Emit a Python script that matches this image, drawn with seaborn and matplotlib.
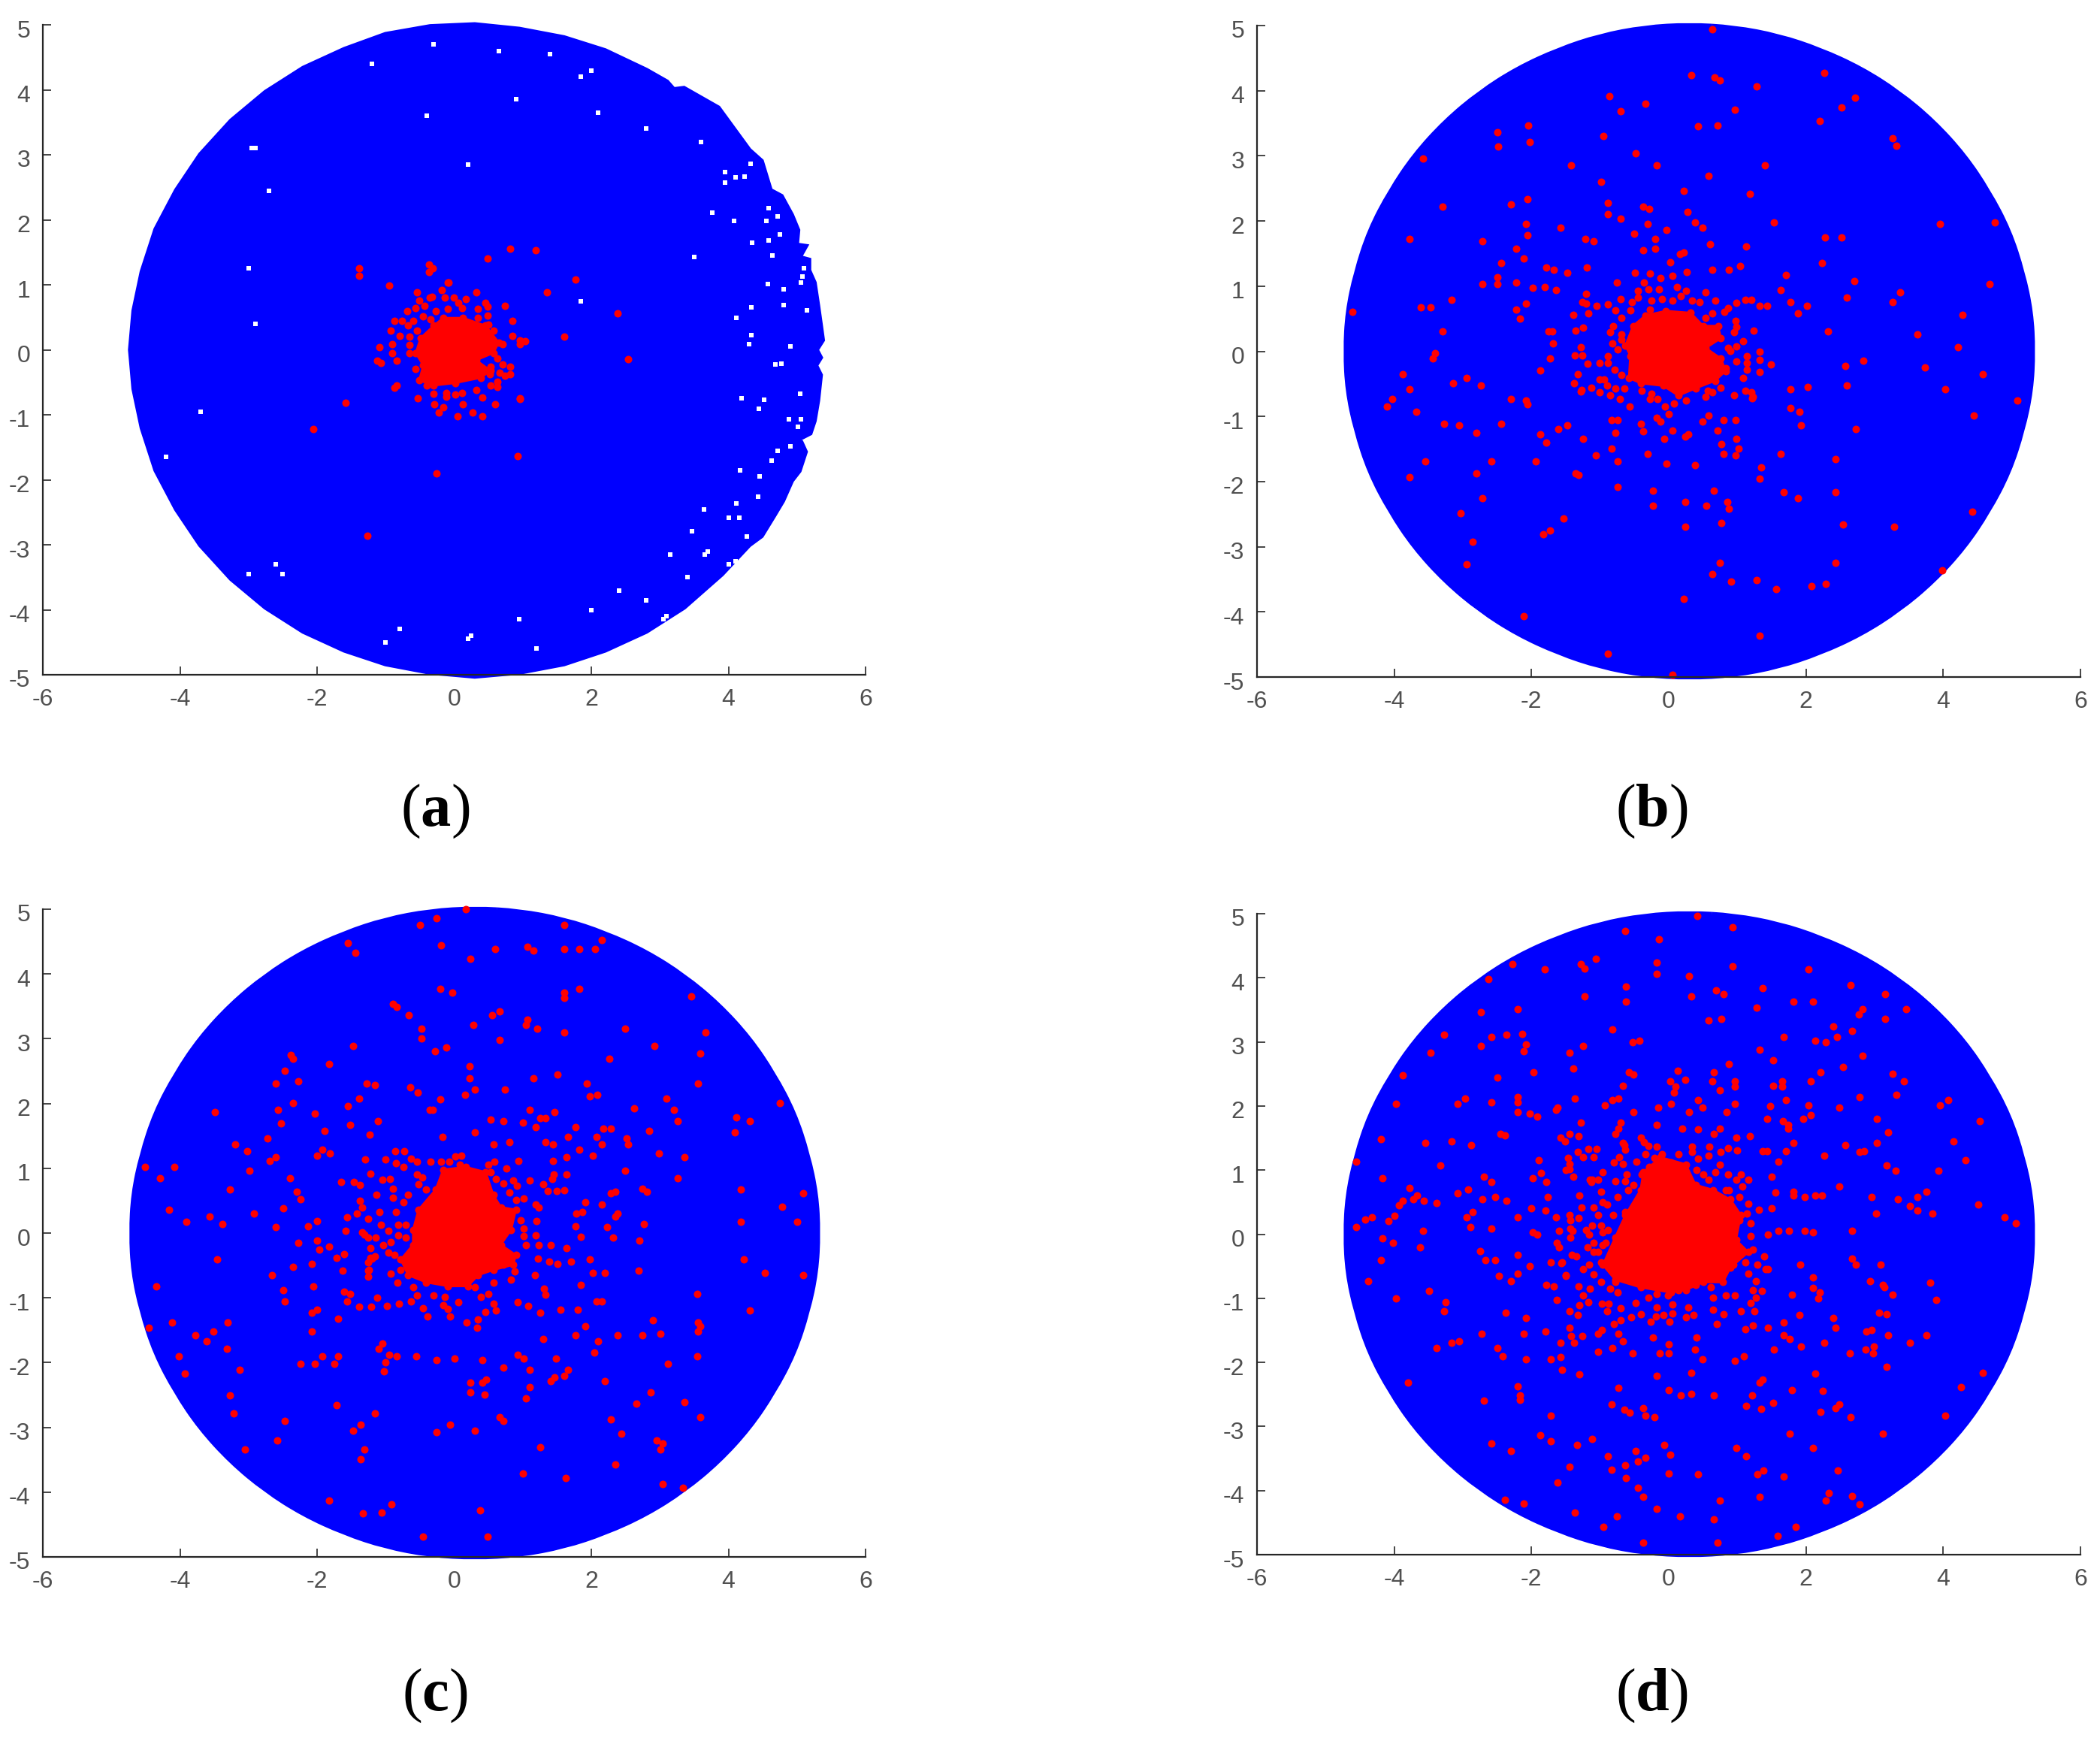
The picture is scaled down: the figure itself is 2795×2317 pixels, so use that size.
import matplotlib
matplotlib.use("Agg")
import matplotlib.pyplot as plt
from matplotlib.path import Path
from matplotlib.patches import PathPatch
from matplotlib.transforms import ScaledTranslation
import seaborn as sns
import pandas as pd

x_ticks = [-6, -4, -2, 0, 2, 4, 6]
y_ticks = [-5, -4, -3, -2, -1, 0, 1, 2, 3, 4, 5]
panel_labels = ["a", "b", "c", "d"]

disc_edge = [(0.3,5.0),(0.95,4.96),(1.6,4.83),(2.2,4.62),(2.8,4.33),(3.35,3.96),(3.85,3.52),(4.3,3.0),(4.65,2.45),(4.95,1.85),
             (5.15,1.2),(5.27,.6),(5.3,0),(5.27,-.6),(5.15,-1.2),(4.95,-1.85),(4.65,-2.45),(4.3,-3),(3.85,-3.52),(3.35,-3.96),
             (2.8,-4.33),(2.2,-4.62),(1.6,-4.83),(.95,-4.96),(.3,-5),(-.35,-4.96),(-1,-4.83),(-1.6,-4.62),(-2.2,-4.33),(-2.75,-3.96),
             (-3.25,-3.52),(-3.7,-3),(-4.05,-2.45),(-4.35,-1.85),(-4.55,-1.2),(-4.67,-.6),(-4.7,0),(-4.67,.6),(-4.55,1.2),(-4.35,1.85),
             (-4.05,2.45),(-3.7,3),(-3.25,3.52),(-2.75,3.96),(-2.2,4.33),(-1.6,4.62),(-1,4.83),(-.35,4.96)]

# panel a has a rougher edge, mostly on the right
disc_edge_a = [(0.3,5.0),(0.95,4.93),(1.6,4.8),(2.2,4.6),(2.8,4.3),(3.1,4.12),(3.2,4.0),(3.35,4.02),(3.85,3.72),(4.3,3.07),(4.48,2.9),(4.61,2.45),
               (4.77,2.36),(4.92,2.07),(5.01,1.84),(4.99,1.61),(5.12,1.59),(5.03,1.42),(5.17,1.38),(5.17,1.22),(5.25,1.03),(5.3,.68),(5.34,.38),(5.37,.15),
               (5.28,0),(5.34,-.12),(5.27,-.24),(5.34,-.39),(5.3,-.78),(5.25,-1.09),(5.19,-1.28),(4.95,-1.41),(5.06,-1.43),(5.12,-1.57),(5.03,-1.86),
               (4.92,-2.01),(4.79,-2.32),(4.66,-2.55),(4.48,-2.86),(4.3,-3),(3.9,-3.45),(3.35,-3.96),(2.8,-4.33),(2.2,-4.62),(1.6,-4.83),(.95,-4.96),
               (.3,-5.02),(-.35,-4.96),(-1,-4.83),(-1.6,-4.62),(-2.2,-4.33),(-2.75,-3.96),(-3.25,-3.52),(-3.7,-3),(-4.05,-2.45),(-4.35,-1.85),(-4.55,-1.2),
               (-4.67,-.6),(-4.72,0),(-4.67,.6),(-4.55,1.2),(-4.35,1.85),(-4.05,2.45),(-3.7,3),(-3.25,3.52),(-2.75,3.96),(-2.2,4.33),(-1.6,4.62),(-1,4.85),(-.35,4.97)]

# small holes in the blue cloud of panel a
holes_a = [(3.95,2.57),(3.95,2.73),(4.24,2.67),(4.1,2.65),(4.32,2.86),(4.59,2.18),(4.72,2.05),(4.08,1.98),(4.55,1.98),(4.75,1.77),(3.5,1.43),(4.64,1.45),
           (5.08,1.13),(5.06,1.03),(5.1,1.26),(4.57,1.01),(4.81,.93),(4.33,.65),(4.11,.49),(4.8,.69),(5.14,.61),(4.68,-.22),(4.77,-.21),(4.9,.05),(4.3,.09),
           (4.19,-.74),(4.52,-.77),(5.05,-.68),(5.06,-1.07),(5.01,-1.18),(4.44,-.91),(4.9,-1.49),(4.63,-1.7),(4.45,-1.95),(4.17,-1.85),(4.43,-2.26),(4.11,-2.36),
           (3.64,-2.46),(4.01,-2.58),(4.16,-2.58),(3.47,-2.79),(4.27,-2.87),(3.76,2.11),(4.59,1.68),(4.35,1.65),(4.33,.22),(4.88,-1.07),(4.72,-1.55),
           (3.7,-3.1),(3.65,-3.15),(4,-3.3),(4.1,-3.25),(3.1,-4.1),(3.05,-4.15),(.2,-4.45),(.25,-4.4),(-1,-4.5),(1.85,.75),(1.85,4.2),(2,4.3),(1.4,4.55),(.65,4.6),
           (-.3,4.7),(-1.2,4.4),(-2.9,3.1),(-2.95,3.1),(-2.7,2.45),(-4,2.75),(-3,1.25),(-2.9,.4),(-4.2,-1.65),(-3.7,-.95),(-2.6,-3.3),(-2.5,-3.45),(-3,-3.45),
           (3.15,-3.15),(2.4,-3.7),(2,-4),(1.2,-4.6),(-.8,-4.3),(3.4,-3.5),(2.8,-3.85),(.95,-4.15),(.2,2.85),(-.4,3.6),(.9,3.85),(2.1,3.65),(2.8,3.4),(3.6,3.2)]

# solid red middle of each cloud
core_a = [(-.56,-.05),(-.49,.18),(-.3,.37),(-.16,.49),(.13,.49),(.46,.37),(.65,.11),(.57,-.05),(.32,-.16),(.53,-.32),(.39,-.43),(.02,-.51),(-.3,-.55),(-.51,-.47),(-.45,-.24)]
core_b = [(-.56,-.07),(-.63,.09),(-.52,.39),(-.34,.55),(-.04,.62),(.32,.59),(.5,.39),(.72,.39),(.76,.2),(.54,.05),(.76,-.11),(.83,-.3),(.68,-.45),(.39,-.57),(.14,-.68),(-.08,-.53),(-.41,-.49),(-.58,-.41)]
core_c = [(-.6,.05),(-.52,.36),(-.27,.67),(-.16,.98),(.17,1.02),(.46,.94),(.57,.59),(.68,.4),(.9,.36),(.83,.05),(.68,-.18),(.9,-.34),(.86,-.49),(.57,-.57),(.35,-.65),(.2,-.82),(-.09,-.82),(-.41,-.76),(-.67,-.65),(-.78,-.41),(-.6,-.18)]
core_d = [(-.96,-.48),(-.78,-.05),(-.63,.3),(-.41,.69),(-.37,.97),(-.12,1.2),(.25,1.09),(.39,.77),(.65,.69),(.9,.54),(1.05,.3),(.98,-.09),(1.16,-.28),(.9,-.52),(.79,-.75),(.5,-.75),(.25,-.87),(.03,-.91),(-.41,-.83),(-.78,-.71)]

red_a = [(-1.39,1.25),(-1.39,1.14),(-.37,1.31),(-.31,1.26),(-.37,1.2),(-.95,.99),(-.08,1.03),(.49,1.41),(.82,1.55),(1.19,1.53),(1.77,1.08),
         (1.35,.88),(2.38,.56),(1.61,.2),(2.54,-.14),(.96,-.76),(.93,-1.64),(-.26,-1.9),(-1.27,-2.86),(-2.05,-1.22),(-1.58,-.81)]
near_a = [(-.54,.88),(-.18,.92),(-.09,1.03),(-.36,.8),(-.51,.76),(-.43,.68),(-.32,.82),(-.14,.8),(-.01,.8),(.17,.78),(.32,.88),(.46,.72),(.49,.66),(.74,.68),(.34,.63),(.06,.72),
          (.12,.64),(-.09,.63),(-.27,.59),(-.56,.64),(-.69,.59),(-.76,.45),(-.87,.44),(-.67,.38),(-.6,.44),(-.54,.3),(-.93,.3),(-.8,.21),(-.65,.2),(-.34,.47),(-.45,.51),(.85,.44),
          (.85,.21),(.96,.15),(1.04,.13),(.96,.09),(.71,.09),(.57,.3),(.5,.39),(.49,.53),(.35,.49),(-.9,.09),(-1.09,.04),(-.9,-.05),(-1.12,-.17),(-1.07,-.2),(-.84,-.17),(-.65,.07),
          (-.65,-.05),(-.56,-.29),(-.4,-.55),(-.3,-.68),(-.11,-.66),(-.11,-.72),(-.53,-.75),(-.29,-.84),(-.16,-.89),(-.23,-.96),(.05,-1.02),(.13,-.84),(.27,-.96),(.41,-1.02),(.6,-.84),
          (.41,-.73),(.96,-.75),(.63,-.13),(.71,-.23),(.82,-.26),(.66,-.35),(.82,-.37),(.74,-.4),(.52,-.37),(.53,-.26),(.63,-.49),(.63,-.57),(.53,-.55),(.32,-.62),(.12,-.66),(.02,-.69),
          (-.87,-.58),(-.84,-.55)]

red_b = [(.63,4.94),(.33,4.24),(.67,4.2),(.74,4.16),(1.28,4.06),(2.27,4.27),(2.52,3.74),(2.71,3.89),(-.87,3.92),(-.34,3.8),(-.7,3.68),(.96,3.71),
         (.43,3.45),(.71,3.47),(2.2,3.54),(-2.05,3.47),(-2.5,3.36),(-.95,3.31),(-2.48,3.14),(-2.03,3.21),(3.26,3.27),(3.32,3.16),(-.48,3.04),
         (-3.58,2.96),(-1.42,2.86),(-.18,2.86),(1.4,2.86),(.58,2.69),(-.98,2.6),(.22,2.46),(1.18,2.42),(-2.06,2.34),(-2.3,2.25),(-3.3,2.22),
         (-.89,2.28),(-.37,2.22),(-.28,2.19),(-.89,2.1),(-.7,2.04),(.27,2.14),(.38,1.98),(.49,1.9),(1.53,1.98),(3.95,1.96),(4.75,1.98),
         (-2.08,1.96),(-1.58,1.9),(-2.06,1.78),(-.31,1.96),(-.5,1.81),(-.03,1.86),(-3.78,1.72),(-2.72,1.69),(-1.22,1.72),(-1.09,1.69),(-.2,1.72),
         (-.2,1.58),(-.37,1.55),(.6,1.64),(1.13,1.61),(2.28,1.75),(2.52,1.75),(-2.22,1.58),(-2.11,1.43),(.16,1.49),(.22,1.52),(.02,1.37),
         (-2.44,1.35),(2.23,1.35),(1.04,1.31),(-1.78,1.29),(-1.67,1.25),(-1.48,1.2),(-1.19,1.29),(.63,1.25),(.88,1.25),(1.71,1.17),(-2.5,1.14),
         (-2.5,1.03),(-2.72,1.03),(-2.22,1.05),(-1.98,.97),(-1.81,.99),(-1.64,.94),(2.7,1.08),(4.67,1.03),(1.63,.94),(3.37,.91),(-1.2,.88),
         (-3.16,.79),(-2.08,.73),(2.59,.82),(1.77,.75),(3.26,.75),(2.02,.7),(-3.61,.67),(-3.47,.67),(-2.22,.64),(-4.61,.61),(-2.17,.5),
         (1.88,.58),(4.28,.56),(-3.3,.31),(2.32,.31),(-1.75,.3),(-1.7,.3),(3.62,.26),(-1.69,.12),(4.22,.06),(-3.41,-.03),(-3.44,-.11),
         (-1.73,-.11),(2.84,-.14),(2.57,-.23),(3.73,-.25),(-3.88,-.35),(-1.87,-.29),(4.58,-.35),(-2.94,-.41),(-3.14,-.49),(-2.74,-.53),
         (2.59,-.53),(2.03,-.55),(-3.78,-.58),(1.77,-.58),(4.03,-.58),(-4.03,-.73),(-4.11,-.85),(-2.3,-.73),(-2.08,-.75),(-2.06,-.81),
         (5.08,-.76),(-3.68,-.93),(4.45,-.99),(1.77,-.87),(1.9,-.93),(-3.27,-1.11),(-3.05,-1.14),(-2.44,-1.11),(1.93,-1.14),(2.73,-1.19),
         (-1.61,-1.19),(-1.48,-1.14),(-2.8,-1.25),(-1.87,-1.28),(-1.78,-1.4),(-1.25,-1.34),(-1.06,-1.6),(-.83,-1.49),(-.31,-1.58),(-3.55,-1.69),
         (-2.58,-1.69),(-1.94,-1.69),(-.75,-1.69),(-.03,-1.72),(.38,-1.75),(.8,-1.58),(.97,-1.6),(1.02,-1.49),(.99,-1.34),(.77,-1.43),
         (1.63,-1.58),(2.43,-1.66),(1.35,-1.78),(1.33,-1.96),(-3.78,-1.93),(-2.8,-1.87),(-1.36,-1.87),(-1.31,-1.9),(-.75,-2.08),(-.23,-2.14),
         (.66,-2.14),(1.68,-2.16),(2.43,-2.16),(-2.72,-2.25),(1.88,-2.25),(.85,-2.31),(.24,-2.31),(.55,-2.37),(-.23,-2.37),(.88,-2.42),
         (4.42,-2.46),(-3.03,-2.48),(-1.53,-2.57),(.77,-2.63),(2.54,-2.66),(.24,-2.69),(3.28,-2.69),(-1.73,-2.75),(-1.83,-2.81),(-2.86,-2.92),
         (-2.94,-3.27),(.74,-3.25),(2.43,-3.25),(3.98,-3.36),(.63,-3.42),(.91,-3.53),(1.28,-3.51),(2.08,-3.6),(2.29,-3.57),(1.57,-3.65),
         (.22,-3.8),(-2.11,-4.06),(1.33,-4.36),(-.89,-4.64),(.05,-4.97)]
near_b = [(-.81,.39),(-.69,.51),(-.78,.63),(-.56,.63),(-.54,.76),(-.45,.82),(-.7,.8),(-.89,.72),(-.27,.64),(-.25,.78),(-.1,.8),(.05,.78),(.17,.85),(.25,.93),(.34,.78),(.45,.76),(.63,.58),(.54,.51),
          (.68,.78),(.81,.6),(.87,.66),(.99,.74),(1.12,.79),(1.2,.79),(.97,.47),(.99,.37),(.95,.29),(1.08,.16),(.99,.07),(.87,.05),(.9,.01),(.83,-.26),(1.14,-.28),(1.14,-.18),(.99,-.15),(1.14,-.07),
          (1.08,-.41),(1.12,-.61),(1.23,-.7),(.95,-.67),(.76,-.56),(.63,-.63),(.57,-.61),(.54,-.7),(.25,-.76),(.08,-.8),(-.05,-.85),(0,-.96),(-.16,-.73),(-.27,-.73),(-.25,-.65),(-.39,-.61),(-.65,-.57),
          (-.78,-.57),(-.9,-.53),(-1.01,-.43),(-.94,-.43),(-1.01,-.63),(-1.13,-.56),(-1.27,-.59),(-.85,-.68),(-.71,-.73),(-.79,-.28),(-.69,-.36),(-1.01,-.18),(-.89,-.18),(-.89,-.07),(-.74,.03),(-.82,.12),
          (-.69,.18),(-.69,.26),(-.85,.29),(-.12,1.12),(.06,1.16),(.26,1.22),(-.27,1.19),(-.49,1.2),(-.76,1.05),(-.36,1.05),(-.3,.95),(-.45,.93),(-.14,.95),(.12,.99),(.54,.91),
          (-1.05,.7),(-1.2,.73),(-1.26,.75),(-1.39,.56),(-1.17,.58),(-1.36,.32),(-1.25,.36),(1.43,.7),(1.33,.7),(1.24,.32),(1.33,0),(1.33,-.13),(1.49,-.2),(1.33,-.32),(1.2,-.63),(1.22,-.72),(-1.38,-.49),
          (-1.28,-.62),(-1.37,-.06),(-1.26,-.06),(-1.28,.06),(-1.32,-.35),(-1.18,-.19),(-.83,-1.06),(-.75,-1.06),(-.78,-1.25),(-.4,-1.11),(-.37,-1.23),(-.07,-1.34),(.05,-1.22),(.24,-1.31),(.28,-1.28),
          (.49,-1.08),(.58,-.99),(.71,-1.22),(.8,-1.05),(.97,-1.05),(-.18,-1.02),(-.12,-1.08),(-.57,-.85)]

red_c = [(.17,5.0),(-.5,4.76),(-.26,4.86),(1.61,4.76),(-1.55,4.48),(-1.44,4.33),(-.19,4.44),(.6,4.38),(1.07,4.42),(1.16,4.36),(1.61,4.38),
         (1.82,4.38),(2.05,4.38),(2.15,4.53),(.24,4.24),(-.2,3.77),(-.03,3.71),(1.61,3.71),(1.61,3.63),(1.82,3.77),(3.46,3.65),(-.89,3.54),
         (-.84,3.49),(-.66,3.36),(.55,3.36),(.66,3.42),(1.07,3.3),(1.05,3.21),(.28,3.21),(-.48,3.16),(1.21,3.16),(2.49,3.16),(1.61,3.1),(3.67,3.1),
         (-.48,3.01),(.66,2.98),(-1.47,2.89),(-.12,2.87),(-.28,2.81),(2.92,2.89),(3.59,2.77),(-2.38,2.75),(-2.35,2.69),(2.26,2.69),(-1.83,2.61),
         (.22,2.57),(-2.47,2.51),(.22,2.39),(1.16,2.39),(1.51,2.45),(-2.27,2.34),(-2.6,2.31),(-1.28,2.31),(-1.16,2.28),(1.93,2.31),(3.56,2.31),
         (-.64,2.25),(-.53,2.17),(.3,2.22),(.74,2.22),(-1.39,2.08),(-.2,2.07),(.16,2.13),(1.98,2.11),(2.09,2.13),(3.1,2.08),(-2.35,2.01),(4.75,2.01),
         (-1.55,1.96),(-.36,1.9),(-.31,1.9),(1.1,1.9),(-2.57,1.9),(2.62,1.93),(3.2,1.9),(-3.49,1.87),(-2.03,1.84),(1.46,1.87),(1.25,1.78),(1.33,1.78),
         (.53,1.75),(.72,1.73),(1,1.7),(3.26,1.73),(4.12,1.79),(4.31,1.73),(-2.53,1.69),(-1.11,1.73),(-1.52,1.67),(1.19,1.64),(1.77,1.64),(-1.89,1.58),
         (2.18,1.61),(2.28,1.61),(2.84,1.58),(.3,1.55),(4.09,1.55),(-1.23,1.52),(-2.72,1.46),(-.17,1.49),(1.66,1.49),(2.08,1.49),(2.52,1.46),(-3.19,1.37),
         (2.54,1.37),(.58,1.37),(.8,1.4),(1.33,1.4),(1.44,1.37),(2.15,1.37),(-3.02,1.26),(-1.92,1.29),(-2,1.2),(-1.81,1.23),(1.82,1.29),(2.02,1.2),
         (2.99,1.23),(3.36,1.17),(-2.6,1.17),(-2.69,1.11),(.94,1.11),(1.44,1.11),(1.64,1.17),(-4.51,1.02),(-4.08,1.02),(-2.99,.96),(2.49,.96),(-4.29,.85),
         (-2.4,.85),(3.26,.85),(-3.27,.67),(-2.3,.64),(-2.24,.52),(2.74,.69),(2.81,.64),(4.18,.67),(5.09,.61),(2.29,.62),(2.35,.64),(1.91,.47),(2.15,.44),
         (4.78,.41),(-4.16,.36),(-2.49,.38),(-3.57,.26),(-2.92,.3),(1.78,.3),(1.87,.32),(2.35,.26),(2.38,.3),(-3.91,.17),(-3.38,.14),(-2.13,.11),(-2,.19),
         (-2.6,.09),(1.77,.11),(2.23,.09),(2.77,.14),(4.18,.17),(5,.17),(2.32,-.07),(1.85,-.06),(-2.27,-.15),(-2,-.12),(2.7,-.12),(-1.97,-.26),(-1.83,-.21),
         (-3.46,-.41),(-1.72,-.38),(-1.61,-.32),(1.98,-.41),(4.22,-.41),(-2.08,-.47),(-2.35,-.52),(-1.63,-.58),(2.69,-.58),(2.02,-.62),(2.2,-.62),(4.53,-.62),
         (-2.66,-.65),(5.09,-.65),(-4.35,-.82),(-2.05,-.82),(1.85,-.8),(-2.49,-.88),(-1.61,-.9),(-1.52,-.94),(3.54,-.94),(-2.47,-1.06),(-1.56,-1.06),(2.08,-1.06),
         (2.15,-1.06),(-2,-1.18),(-2.08,-1.23),(-1.39,-1.14),(-1.21,-1.14),(1.55,-1.18),(1.8,-1.18),(4.31,-1.2),(-1.69,-1.32),(2.9,-1.35),(-4.11,-1.38),(-3.3,-1.38),
         (3.56,-1.38),(-4.46,-1.46),(3.59,-1.44),(1.91,-1.44),(-3.51,-1.52),(3.56,-1.52),(-2.08,-1.52),(-3.77,-1.58),(1.77,-1.58),(2.38,-1.58),(2.74,-1.58),(3.01,-1.56),
         (1.3,-1.64),(-3.61,-1.67),(2.1,-1.67),(-3.32,-1.79),(-1.1,-1.79),(-1.05,-1.7),(2.04,-1.84),(-4.02,-1.9),(-1.92,-1.9),(-1.69,-1.9),(-.95,-1.88),(-.84,-1.9),
         (-.55,-1.9),(0,-1.94),(-.26,-1.96),(.41,-1.96),(.93,-1.88),(1.01,-1.94),(1.49,-1.94),(3.54,-1.9),(-2.24,-2.02),(-2.03,-2.02),(-1.75,-2.02),(-1,-1.99),
         (-3.13,-2.11),(-1.03,-2.14),(-3.93,-2.17),(.72,-2.08),(1.1,-2.11),(1.66,-2.11),(3.12,-2.02),(1.61,-2.2),(1.46,-2.23),(1.41,-2.28),(.47,-2.26),(.41,-2.31),
         (.24,-2.31),(2.2,-2.28),(1.1,-2.38),(.24,-2.46),(.44,-2.49),(2.87,-2.46),(-3.27,-2.51),(1.05,-2.55),(2.66,-2.63),(3.36,-2.61),(-1.72,-2.66),(-1.16,-2.78),
         (-3.22,-2.78),(.66,-2.84),(.72,-2.9),(2.28,-2.88),(3.59,-2.84),(-2.47,-2.9),(-.06,-2.96),(-1.36,-2.96),(-1.47,-3.05),(-.26,-3.08),(.3,-3.05),(2.44,-3.1),
         (-2.58,-3.2),(2.95,-3.2),(3.04,-3.25),(-1.31,-3.34),(3.01,-3.34),(1.26,-3.31),(-3.05,-3.34),(-1.36,-3.49),(2.35,-3.57),(1,-3.71),(1.63,-3.78),(3.04,-3.87),
         (3.34,-3.93),(-1.83,-4.13),(-.91,-4.19),(-1.06,-4.31),(-1.33,-4.33),(.38,-4.28),(-.45,-4.69),(.49,-4.69)]
near_c = [(-.85,.32),(-.74,.48),(-.67,.59),(-.89,.55),(-.82,.13),(-.71,.13),(-.96,.03),(-.82,-.03),(-.71,-.07),(-1.04,-.18),(-.93,-.14),(-.96,-.3),(-.87,-.34),(-.74,-.41),(-1.22,-.38),(-1.25,-.45),
          (-1.16,-.36),(-1.25,-.67),(-1.24,-.57),(-.93,-.63),(-.78,-.57),(-.83,-.76),(-.6,-.84),(-.54,-.96),(-.63,-1.05),(-.3,-.96),(-.14,-.99),(-.16,-1.11),(.06,-1.07),(-.09,-1.17),(.3,-.84),(.39,-.99),
          (.5,-.94),(.57,-.76),(.57,-1.09),(.46,-1.22),(.61,-1.2),(.83,-.72),(.88,-.59),(.72,-.49),(1.23,-.18),(1.05,-.18),(1.19,-.03),(1.01,-.05),(.97,.2),(1.01,.07),(1.2,.19),(.9,.51),(1.01,.53),(1.19,.44),
          (1.23,.4),(.81,.63),(.92,.73),(.86,.81),(1.1,.81),(1.3,.75),(1.36,.65),(1.5,.65),(.61,.84),(.72,.77),(.53,.94),(-.34,1.1),(-.19,1.1),(-.07,1.1),(.08,1.06),(.5,1.06),(.59,1.1),(-.54,.9),(-.47,.86),
          (-.52,.75),(-.41,.67),(-.74,1.02),(-.85,1.08),(-.54,1.1),(-.63,1.15),(-.89,.69),(-1.13,.59),(-1.38,.5),(-1.34,.4),(-1.42,.3),(-1.09,.33),(-1.25,.22),(-1.07,.13),(-1.34,.01),(-1.25,-.07),(-1.15,-.07),
          (-1.22,-.23),(-1.05,.82),(-.94,.84),(-1.22,.92),(.1,1.19),(.02,1.18),(-1,1.14),(-.86,1.26),(-.73,1.26),(-1.3,1.14),(-1.65,.79),(-1.46,.79),(-1.37,.74),(-1.56,.24),(-1.58,.03),(-1.31,-.02),(-1.2,-.4),
          (-1.25,-.58),(-1.12,-1),(-.98,-1.12),(-.81,-1.09),(-.45,-1.16),(-.39,-1.29),(-.06,-1.29),(.18,-1.38),(.34,-1.33),(.33,-1.46),(.93,-1.07),(1.08,-1.12),(1.22,-.4),(1.18,-.65),(1.31,-.86),(1.33,-.95),
          (1.25,-1.23),(1.39,-.44),(1.51,-.48),(1.7,-.44),(1.64,-.23),(1.41,-.19),(1.6,.66),(1.64,.91),(1.45,.91),(1.43,.83),(.76,1)]

red_d = [(.42,4.97),(.93,4.79),(-.64,4.73),(-.14,4.6),(-1.06,4.3),(-.18,4.24),(-2.28,4.21),(-1.81,4.13),(-1.28,4.21),(-1.23,4.15),(.93,4.18),(2.04,4.13),(-.18,4.06),
         (.3,4.03),(-2.63,3.98),(-.62,3.86),(2.65,3.89),(.69,3.8),(.8,3.74),(1.37,3.84),(.33,3.71),(-1.23,3.71),(3.15,3.74),(-.62,3.63),(1.82,3.63),(2.1,3.63),(-2.2,3.51),
         (1.28,3.54),(3.46,3.51),(2.82,3.51),(2.77,3.43),(-2.74,3.46),(.77,3.36),(.58,3.34),(3.15,3.36),(2.4,3.24),(-.82,3.19),(2.67,3.17),(2.45,3.08),(-2.13,3.13),(-2.36,3.11),
         (-2.58,3.08),(-3.27,3.11),(1.68,3.08),(2.13,3.02),(2.29,3),(-.53,2.99),(-.43,3.02),(-2.08,2.96),(-2.74,2.94),(-1.25,2.94),(-2.11,2.85),(-3.47,2.83),(-1.44,2.83),(1.33,2.88),
         (2.82,2.79),(1.52,2.71),(.88,2.65),(-1.39,2.59),(2.54,2.61),(.13,2.55),(-.58,2.53),(-.51,2.49),(.66,2.53),(-1.97,2.53),(2.21,2.53),(3.26,2.5),(-3.88,2.48),(-2.5,2.44),
         (.24,2.41),(.63,2.38),(.02,2.38),(.96,2.38),(1.65,2.38),(2.07,2.38),(3.43,2.38),(-.67,2.32),(.1,2.3),(.96,2.3),(1.52,2.32),(1.65,2.3),(.08,2.21),(.74,2.24),(3.32,2.18),
         (-2.2,2.14),(2.78,2.14),(-1.37,2.12),(-2.97,2.12),(4.07,2.09),(.43,2.09),(-2.2,2.06),(-2.58,2.06),(-.82,2.09),(-.73,2.12),(1.71,2.09),(-3.08,2.03),(-3.97,2.03),(3.95,2.01),
         (-.93,2.01),(.96,2.03),(.03,2.03),(2.04,2.01),(2.48,1.97),(1.48,2),(-1.62,1.97),(-1.64,1.94),(-.15,1.97),(.49,1.97),(-2.2,1.91),(.3,1.91),(.84,1.91),(-.51,1.91),(-2.03,1.88),
         (-1.92,1.84),(2.07,1.86),(3.03,1.8),(4.53,1.77),(1.96,1.8),(1.43,1.8),(1.66,1.77),(-1.28,1.74),(-.7,1.74),(-.18,1.71),(1.74,1.71),(1.74,1.65),(-.73,1.65),(.2,1.65),(.74,1.65),
         (.43,1.63),(-.78,1.56),(.66,1.56),(-2.45,1.56),(-2.39,1.54),(-1.45,1.56),(3.2,1.59),(-1.31,1.53),(-1.58,1.51),(-1.51,1.45),(-.4,1.51),(1.18,1.53),(.99,1.51),(4.15,1.45),
         (-4.19,1.48),(-3.16,1.45),(-3.55,1.42),(-2.88,1.39),(2.57,1.39),(3.03,1.42),(1.82,1.42),(-.65,1.39),(-1.05,1.33),(-1.17,1.33),(-1.33,1.28),(1.37,1.3),(1.43,1.3),(1.71,1.3),
         (2.85,1.3),(2.78,1.28),(2.27,1.22),(-1.47,1.19),(-1.89,1.15),(4.33,1.15),(-4.56,1.13),(1.6,1.13),(-3.33,1.07),(3.18,1.07),(3.31,.99),(3.93,.99),(-1.45,1.01),(-1.86,.96),
         (-1.98,.87),(-4.17,.87),(-2.69,.9),(-2.58,.81),(-1.78,.81),(-1.39,.9),(-1.13,.81),(2.48,.75),(-3.78,.72),(-2.92,.7),(-3.08,.64),(3.76,.66),(1.82,.66),(-3.67,.6),(-2.53,.58),
         (-2.72,.55),(-1.76,.58),(1.82,.6),(1.98,.58),(2.13,.6),(2.23,.6),(2.96,.58),(3.62,.58),(3.34,.54),(-3.72,.54),(-3.57,.52),(-2.36,.52),(-3.38,.49),(-3.88,.52),(-3.93,.45),
         (3.51,.44),(4.51,.46),(-2,.4),(-1.8,.37),(3.62,.37),(-2.86,.34),(3.84,.32),(3.02,.32),(-2.2,.26),(-2.94,.26),(-4,.29),(-4.33,.26),(-4.42,.23),(-4.08,.2),(4.89,.26),(5.06,.17),
         (-1.64,.26),(-4.55,.11),(-2.89,.11),(-2.58,.09),(-3.58,.05),(-1.98,.03),(-1.92,0),(2.67,.05),(1.98,.05),(2.1,.03),(-4.17,-.06),(-4.02,-.14),(-3.62,-.2),(-1.63,-.14),(-2.75,-.26),
         (-2.2,-.32),(2.67,-.38),(-4.19,-.41),(-2.67,-.41),(-2.53,-.41),(-1.72,-.44),(-1.57,-.45),(2.73,-.47),(3.09,-.47),(-2.03,-.5),(1.92,-.47),(-2.2,-.62),(-2.47,-.65),(-1.5,-.64),
         (2.1,-.67),(2.93,-.73),(-4.38,-.73),(-2.3,-.73),(3.12,-.79),(3.81,-.76),(-1.78,-.79),(-1.68,-.82),(-1.31,-.82),(3.14,-.83),(-3.49,-.88),(2.1,-.84),(3.26,-.94),(1.8,-.94),(-3.97,-1),
         (2.2,-.91),(2.18,-1),(-1.63,-1.02),(3.9,-1.02),(-3.25,-1.06),(-1.17,-1.06),(-1.3,-1.11),(-.97,-1.08),(-.88,-1.08),(-3.27,-1.2),(-1.44,-1.2),(-2.38,-1.23),(3.07,-1.23),(3.18,-1.25),
         (-1.33,-1.26),(1.9,-1.26),(-2.08,-1.31),(2.4,-1.31),(1.68,-1.38),(-.8,-1.4),(-.7,-1.34),(.7,-1.4),(1.12,-1.48),(1.23,-1.43),(1.45,-1.46),(2.43,-1.46),(-1.44,-1.46),(2.88,-1.52),
         (2.96,-1.49),(-1.8,-1.52),(-2.73,-1.55),(-2.11,-1.55),(-1.03,-1.55),(-.73,-1.55),(3.2,-1.58),(3.76,-1.58),(1.68,-1.58),(1.76,-1.63),(-1.42,-1.59),(-1.26,-1.59),(-.97,-1.49),(-.23,-1.61),
         (.41,-1.61),(-3.16,-1.69),(-3.05,-1.67),(-1.58,-1.69),(-1.38,-1.69),(-.67,-1.67),(2.27,-1.69),(3.51,-1.69),(0,-1.72),(1.93,-1.75),(-3.38,-1.78),(-2.5,-1.78),(-.82,-1.78),(1.53,-1.8),
         (2.87,-1.8),(2.99,-1.75),(-1.03,-1.83),(-2.42,-1.9),(-.53,-1.86),(-.13,-1.86),(0,-1.86),(.38,-1.8),(2.64,-1.86),(2.98,-1.86),(1.1,-1.9),(-2.08,-1.95),(-1.72,-1.95),(-1.58,-1.92),(.49,-1.95),
         (.96,-1.98),(3.18,-2.07),(-1.55,-2.12),(4.58,-2.16),(-1.3,-2.19),(.33,-2.16),(2.13,-2.17),(-.18,-2.21),(-3.8,-2.31),(1.37,-2.27),(1.33,-2.31),(-2.2,-2.37),(4.26,-2.39),(-.73,-2.4),(0,-2.43),
         (1.8,-2.43),(2.24,-2.45),(-2.17,-2.51),(.18,-2.51),(.33,-2.49),(.66,-2.51),(1.22,-2.51),(-2.69,-2.6),(-2.17,-2.59),(-.83,-2.66),(1.52,-2.63),(1.13,-2.68),(1.35,-2.73),(2.48,-2.66),(2.43,-2.71),
         (-.65,-2.74),(-.37,-2.71),(-.57,-2.78),(-.34,-2.83),(-.21,-2.86),(-1.72,-2.83),(2.21,-2.77),(2.65,-2.86),(4.03,-2.83),(-1.87,-3.14),(1.76,-3.11),(3.12,-3.11),(-1.72,-3.23),(-1.12,-3.2),(-2.58,-3.26),
         (-1.34,-3.29),(-.07,-3.29),(.99,-3.34),(2.1,-3.34),(-2.3,-3.38),(-.48,-3.38),(.02,-3.44),(1.13,-3.46),(-.89,-3.46),(-.34,-3.49),(-.45,-3.55),(-.64,-3.61),(-1.45,-3.63),(-.83,-3.67),(2.46,-3.69),
         (1.38,-3.69),(1.29,-3.75),(0,-3.73),(.43,-3.75),(1.68,-3.78),(-.62,-3.81),(-1.62,-3.87),(-.45,-3.96),(-.37,-4.1),(2.33,-4.04),(2.29,-4.16),(1.33,-4.1),(2.67,-4.08),(.74,-4.16),(-2.39,-4.14),(-2.11,-4.2),
         (2.78,-4.22),(-.18,-4.28),(-1.37,-4.34),(-.76,-4.4),(.16,-4.4),(.66,-4.45),(-.95,-4.57),(1.85,-4.57),(1.59,-4.71),(-.37,-4.81),(.71,-4.81)]
near_d = [(-1.03,-.28),(-.99,-.44),(-1.1,-.28),(-.92,-.13),(-.96,-.17),(-.89,.07),(-.81,.3),(-.63,.34),(-.74,.58),(-.59,.69),(-.63,.83),(-.78,.83),(-.96,.97),(-1.03,.85),(-1.12,.85),(-.98,.66),(-.96,.5),(-.9,.46),
          (-1.1,.42),(-1.27,.42),(-1.03,.3),(-1.31,.25),(-1.43,.22),(-1.43,.09),(-1.43,-.05),(-1.4,.05),(-1.2,.07),(-1.12,.13),(-1.16,-.01),(-1.1,-.13),(-.99,.13),(-.96,.03),(-1.18,-.2),(-1.41,-.32),(-1.56,-.44),
          (-1.16,-.48),(-1.1,-.63),(-.98,-.75),(-.85,-.85),(-.74,-.91),(-.78,-.75),(-.3,-.99),(-.48,-1.07),(-.17,-.93),(-.01,-.95),(.14,-.87),(.06,-1.1),(.28,-1.14),(.25,-1.3),(.36,-1.26),(-.17,-1.14),(-.19,-1.28),
          (-.08,-1.26),(.06,-1.24),(-.26,-1.36),(.01,-1.36),(.39,-.79),(.61,-.83),(.65,-.99),(.65,-1.18),(.83,-.95),(.96,-.95),(1.23,-.87),(1.36,-.89),(1.19,-1.07),(1.27,-.99),(1.27,-.73),(1.16,-.61),(1.41,-.54),
          (1.29,-.48),(1.39,-.34),(1.23,-.24),(1.12,-.44),(.94,-.48),(1.19,-.03),(1.03,.22),(1.14,.32),(1.19,.17),(1.31,.38),(1.16,.48),(1.03,.58),(.83,.69),(.88,.69),(1.07,.75),(.98,.85),(1.05,.93),(.87,.93),(1.16,.85),
          (.58,.85),(.5,.93),(.68,.97),(.74,1.08),(.41,1),(.43,1.18),(.34,1.36),(.34,1.28),(.59,1.37),(.58,1.22),(.76,1.28),(.87,1.34),(1,1.31),(.03,1.12),(-.1,1.25),(.14,1.25),(-.21,1.19),(-.34,1.25),(-.17,1.36),(-.3,1.38),
          (-.36,1.44),(-.47,1.13),(-.63,1.32),(-.67,1.43),(-.72,1.2),(-.8,1.12),(-.67,1.1),(-.28,1.05),(-.39,.93),(-.61,.93),(-.52,.77),
          (-1.1,1.2),(-1.25,1.2),(-1.45,1.1),(-1.5,1),(-1.15,.85),(-1.3,.6),(-1.45,.3),(-1.6,.05),(-1.6,-.2),(-1.35,-.35),(-1.5,-.65),(-1.25,-.55),(-1.15,-.85),(-1.25,-.95),(-.9,-1.2),(-.7,-1.15),(-.55,-1.3),(-.4,-1.25),
          (.8,-1.25),(1.05,-1.2),(1.25,-1.2),(1.5,.9),(1.55,.65),(1.5,.4),(1.45,0),(1.6,.05),(1.75,.05),(1.45,-.55)]

sns.set_style("ticks")
plt.rcParams['font.family'] = ['Liberation Sans', 'DejaVu Sans']
plt.rcParams['axes.unicode_minus'] = False
plt.rcParams['mathtext.fontset'] = 'custom'
plt.rcParams['mathtext.rm'] = 'Liberation Serif'
plt.rcParams['mathtext.bf'] = 'Liberation Serif:bold'

W, H = 2795, 2317
fig = plt.figure(figsize=(W / 100, H / 100), dpi=100, facecolor='white')


def to_frame(pts):
    return pd.DataFrame(pts, columns=["x", "y"])


def round_path(pts):
    # closed curve using the read points as control points, so the disc has no corners
    verts, codes = [], []
    n = len(pts)
    for i in range(n):
        x0, y0 = pts[i]
        x1, y1 = pts[(i + 1) % n]
        mid = ((x0 + x1) / 2, (y0 + y1) / 2)
        if i == 0:
            verts.append(mid)
            codes.append(Path.MOVETO)
        else:
            verts += [(x0, y0), mid]
            codes += [Path.CURVE3, Path.CURVE3]
    verts += [pts[0], verts[0]]
    codes += [Path.CURVE3, Path.CURVE3]
    return Path(verts, codes)


def draw_panel(box, label_xy, edge, core, red, near, label, holes=None, rough=False):
    l, t, r, b = box
    ax = fig.add_axes([l / W, 1 - b / H, (r - l) / W, (b - t) / H])
    edge_df = to_frame(edge)
    if rough:
        ax.fill(edge_df.x, edge_df.y, color='#0000ff', lw=5, clip_on=False, zorder=1)
    else:
        ax.add_patch(PathPatch(round_path(edge), fc='#0000ff', ec='#0000ff', lw=6, clip_on=False, zorder=1))
    if holes:
        sns.scatterplot(data=to_frame(holes), x="x", y="y", ax=ax, s=16, color='white', linewidth=0, marker='s', zorder=2)
    core_df = to_frame(core)
    ax.fill(core_df.x, core_df.y, color='#ff0000', lw=2, zorder=3)
    points = to_frame(core + red + near)
    sns.scatterplot(data=points, x="x", y="y", ax=ax, s=52, color='#ff0000', linewidth=0, clip_on=False, zorder=4)
    ax.set_xlim(-6, 6)
    ax.set_ylim(-5, 5)
    ax.set_xticks(x_ticks)
    ax.set_yticks(y_ticks)
    ax.set_xlabel("")
    ax.set_ylabel("")
    ax.tick_params(direction='in', length=8, width=1.2, color='#262626', labelcolor='#505050', labelsize=23)
    ax.tick_params(axis='x', pad=13)
    ax.tick_params(axis='y', pad=12)
    # matlab style labels sit a little under their tick
    shift = ScaledTranslation(0, -5 / 100, fig.dpi_scale_trans)
    for txt in ax.get_yticklabels():
        txt.set_transform(txt.get_transform() + shift)
    sns.despine(ax=ax)
    for s in ['left', 'bottom']:
        ax.spines[s].set_linewidth(1.6)
        ax.spines[s].set_color('#262626')
        ax.spines[s].set_zorder(5)
    fig.text(label_xy[0] / W, 1 - label_xy[1] / H, r'$\mathrm{(}\mathbf{%s}\mathrm{)}$' % label,
             ha='center', va='center', fontsize=58, color='black')


draw_panel((57, 33, 1152, 898), (579, 1080), disc_edge_a, core_a, red_a, near_a, panel_labels[0], holes_a, rough=True)
draw_panel((1673, 34, 2769, 901), (2198, 1080), disc_edge, core_b, red_b, near_b, panel_labels[1])
draw_panel((57, 1210, 1152, 2072), (579, 2257), disc_edge, core_c, red_c, near_c, panel_labels[2])
draw_panel((1673, 1216, 2769, 2069), (2198, 2257), disc_edge, core_d, red_d, near_d, panel_labels[3])

fig.savefig("out.png", dpi=100)
